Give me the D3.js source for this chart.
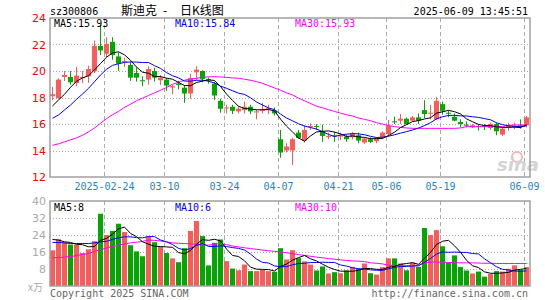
<!DOCTYPE html>
<html><head><meta charset="utf-8">
<script src="https://cdn.jsdelivr.net/npm/d3@7"></script>
<style>
html,body{margin:0;padding:0;background:#fff;}
svg{display:block;}
.mono{font-family:"DejaVu Sans Mono",monospace;font-size:10px;}
</style></head>
<body>
<svg id="c" width="545" height="300"></svg>
<script>
const dates = ["02-11","02-12","02-13","02-14","02-17","02-18","02-19","02-20","02-21","02-24",
"02-25","02-26","02-27","02-28","03-03","03-04","03-05","03-06","03-07","03-10",
"03-11","03-12","03-13","03-14","03-17","03-18","03-19","03-20","03-21","03-24",
"03-25","03-26","03-27","03-28","03-31","04-01","04-02","04-03","04-07","04-08",
"04-09","04-10","04-11","04-14","04-15","04-16","04-17","04-18","04-21","04-22",
"04-23","04-24","04-25","04-28","04-29","04-30","05-06","05-07","05-08","05-09",
"05-12","05-13","05-14","05-15","05-16","05-19","05-20","05-21","05-22","05-23",
"05-26","05-27","05-28","05-29","05-30","06-03","06-04","06-05","06-06","06-09"];
const open = [18.1,17.95,19.55,19.55,19.1,19.45,19.6,20.0,21.9,21.3,
22.2,21.1,20.65,20.45,19.85,19.3,19.35,20.0,19.3,19.35,
18.75,19.05,18.74,18.3,19.9,20.0,19.4,19.05,17.75,17.2,
17.3,16.95,17.05,17.3,16.9,17.0,17.1,17.0,14.85,14.0,
14.0,15.35,14.75,15.8,15.85,15.45,15.05,15.15,15.05,15.05,
15.0,15.15,14.6,14.85,14.7,15.0,15.25,16.2,16.25,16.4,
16.25,16.5,17.05,16.8,16.35,17.5,16.85,16.55,16.15,15.95,
15.75,15.85,15.85,15.7,16.0,15.2,15.75,15.8,15.9,15.9];
const high = [18.8,19.45,20.0,20.0,20.3,20.0,20.4,22.3,23.5,22.55,
22.55,21.4,21.0,20.7,20.28,19.6,20.35,20.25,19.7,19.47,
18.95,19.27,18.94,19.8,20.35,20.05,19.5,19.19,17.9,17.45,
17.45,17.3,17.7,17.45,17.1,17.6,17.45,17.25,15.55,14.55,
14.95,15.55,15.9,16.05,16.0,15.95,15.35,15.4,15.35,15.2,
15.4,15.35,15.0,15.0,15.0,15.45,16.3,16.55,16.75,16.5,
16.6,16.8,17.8,17.45,18.05,17.7,17.0,16.8,16.35,16.2,
16.0,16.0,16.0,16.1,16.1,15.75,16.1,16.1,16.35,16.6];
const low = [17.8,17.9,19.25,18.97,18.85,19.1,19.1,19.85,21.2,21.05,
20.85,20.0,20.3,19.25,19.2,18.85,18.97,19.2,18.95,18.5,
18.25,18.62,17.6,17.9,19.3,19.15,19.05,17.8,16.85,16.8,
16.75,16.8,16.8,16.75,16.35,16.8,16.75,16.65,13.45,13.85,
12.9,14.9,14.6,15.55,15.55,14.65,14.85,14.65,14.8,14.65,
14.85,14.55,14.5,14.55,14.55,14.85,15.05,16.0,16.0,15.95,
16.2,16.0,16.45,16.35,16.3,16.7,16.5,16.2,15.75,15.75,
15.7,15.5,15.55,15.55,15.15,15.1,15.5,15.6,15.65,15.75];
const close = [18.25,19.35,19.7,19.15,19.65,19.55,20.15,21.9,21.55,22.05,
21.2,20.55,20.75,19.5,19.5,19.25,20.15,19.5,19.5,18.9,
18.85,18.95,18.3,19.45,20.1,19.4,19.35,18.15,17.15,17.25,
17.0,17.15,17.3,16.95,16.95,17.05,17.2,16.8,13.85,14.3,
14.85,14.95,15.55,15.85,15.8,15.1,15.1,15.1,15.15,14.85,
15.3,14.75,14.9,14.65,14.9,15.35,15.85,16.15,16.4,16.0,
16.5,16.25,16.75,16.85,17.75,17.0,16.8,16.25,16.0,15.9,
15.9,15.8,15.8,16.0,15.45,15.65,15.85,15.85,15.85,16.5];
const volume = [16.8,22.0,20.5,19.5,19.5,15.5,17.3,21.1,34.0,24.0,
25.9,29.3,25.4,19.2,16.3,14.0,23.5,20.6,18.4,15.5,
13.0,11.2,17.8,25.9,30.6,23.5,9.7,20.3,21.9,11.7,
8.2,7.4,10.1,7.0,7.0,7.6,7.0,6.7,17.8,12.5,
16.8,13.1,11.6,10.1,7.3,9.2,5.9,6.5,6.0,7.3,
9.0,8.2,10.6,6.0,5.4,8.9,13.0,13.0,10.6,7.4,
11.0,9.0,27.3,24.0,26.3,18.7,11.2,14.4,8.9,7.3,
5.9,6.8,4.4,5.7,7.0,6.8,8.1,9.7,7.6,8.9];
// MA30 lines (their history lies before the window)
const ma30Price = [14.39,14.5,14.65,14.8,14.95,15.15,15.4,15.7,16.05,16.4,
16.7,16.95,17.25,17.5,17.75,17.95,18.15,18.35,18.55,18.75,
19.0,19.15,19.3,19.4,19.45,19.52,19.56,19.57,19.55,19.52,
19.48,19.45,19.38,19.3,19.2,19.07,18.9,18.72,18.55,18.35,
18.19,17.95,17.75,17.55,17.35,17.22,17.08,16.95,16.82,16.7,
16.6,16.45,16.35,16.25,16.1,16.0,15.88,15.8,15.75,15.7,
15.67,15.67,15.67,15.67,15.67,15.67,15.67,15.67,15.7,15.8,
15.8,15.8,15.8,15.8,15.8,15.8,15.9,15.92,15.93,15.93];
const ma30Vol = [13.3,13.4,13.6,13.9,14.3,14.8,15.3,16.2,17.1,17.9,
18.6,19.2,19.8,20.3,20.6,21.0,21.6,21.5,21.2,20.7,
20.3,20.1,20.0,19.8,19.6,19.3,19.2,19.6,20.0,19.5,
18.8,18.4,18.0,17.6,17.3,16.9,16.6,16.3,16.0,15.7,
15.2,14.8,14.4,14.0,13.6,13.3,12.9,12.6,12.3,12.0,
11.8,11.7,11.5,10.9,10.7,10.4,9.8,9.6,9.6,9.6,
9.6,9.8,11.0,11.2,11.3,11.2,11.1,11.0,10.9,10.9,
10.9,10.8,10.7,10.7,10.6,10.6,10.6,10.6,10.6,10.6];
// first points of MA5 / MA10 (need days before the window)
const ma5PriceHead = [17.36,17.81,18.24,18.77];
const ma10PriceHead = [16.43,16.68,17.06,17.43,17.86,18.26,18.69,19.19,19.70];
const ma5VolHead = [21.9,21.6,20.8,20.5];
const ma10VolHead = [20.5,20.5,20.3,20.0,20.0,20.0,20.0,20.3,20.8];
const priceTicks = [12,14,16,18,20,22,24];
const volTicks = [8,16,24,32,40];
const dateTicks = ["02-24","03-10","03-24","04-07","04-21","05-06","05-19","06-09"];
const dateTickLabels = ["2025-02-24","03-10","03-24","04-07","04-21","05-06","05-19","06-09"];
const priceLegend = ["MA5:15.93","MA10:15.84","MA30:15.93"];
const volLegend = ["MA5:8","MA10:6","MA30:10"];

function movAvg(arr, n, head){
  return arr.map((v,i)=> i < head.length ? head[i] : d3.mean(arr.slice(i-n+1,i+1)));
}
const ma5Price = movAvg(close,5,ma5PriceHead);
const ma10Price = movAvg(close,10,ma10PriceHead);
const ma5Vol = movAvg(volume,5,ma5VolHead);
const ma10Vol = movAvg(volume,10,ma10VolHead);

const UP="#ff5a5a", DN="#00a800", GRID="#aaaaaa", FRAME="#a0a0a0";
const L=50, R=530, PT=18, PB=177, VT=201, VB=286;
const svg = d3.select("#c");
const x = d3.scaleBand().domain(dates).range([L,R]).paddingInner(1/6).paddingOuter(1/12).align(0);
const bw = x.bandwidth();
const cx = d => x(d)+bw/2;
const yP = d3.scaleLinear().domain([12,24]).range([PB,PT]);
const yV = d3.scaleLinear().domain([0,40]).range([VB,VT]);

svg.append("defs").append("clipPath").attr("id","cp").append("rect").attr("x",L).attr("y",PT).attr("width",R-L).attr("height",PB-PT);
svg.select("defs").append("clipPath").attr("id","cv").append("rect").attr("x",L).attr("y",VT).attr("width",R-L).attr("height",VB-VT);

function grids(g, ys, top, bottom){
  g.selectAll("line.h").data(ys).join("line").attr("x1",L).attr("x2",R)
   .attr("y1",d=>Math.round(d)+0.5).attr("y2",d=>Math.round(d)+0.5)
   .attr("stroke",GRID).attr("stroke-dasharray","1,2");
  g.selectAll("line.v").data(dateTicks).join("line").attr("class","v")
   .attr("x1",d=>x(d)+0.5).attr("x2",d=>x(d)+0.5).attr("y1",top).attr("y2",bottom)
   .attr("stroke",GRID).attr("stroke-dasharray","4,3");
}
grids(svg.append("g"), [14,16,18,20,22].map(yP), PT, PB);
grids(svg.append("g"), [8,16,24,32].map(yV), VT, VB);

// watermark
const wm = svg.append("g");
wm.append("circle").attr("cx",517).attr("cy",157).attr("r",5).attr("fill","none").attr("stroke","#f2b8b8").attr("stroke-width",2);
wm.append("text").attr("x",497).attr("y",171).attr("font-family","DejaVu Sans").attr("font-weight","bold").attr("font-style","italic").attr("font-size",18).attr("fill","#d4d4d4").text("sina");

// candles
const gc = svg.append("g").attr("clip-path","url(#cp)");
const idx = d3.range(dates.length);
gc.selectAll("line.w").data(idx).join("line")
  .attr("x1",i=>cx(dates[i])).attr("x2",i=>cx(dates[i]))
  .attr("y1",i=>yP(high[i])).attr("y2",i=>yP(low[i]))
  .attr("stroke",i=>close[i]>=open[i]?UP:DN).attr("stroke-width",1);
gc.selectAll("rect").data(idx).join("rect")
  .attr("x",i=>x(dates[i])).attr("width",bw)
  .attr("y",i=>yP(Math.max(open[i],close[i])))
  .attr("height",i=>Math.max(1,Math.abs(yP(open[i])-yP(close[i]))))
  .attr("fill",i=>close[i]>=open[i]?UP:DN);

const line = (arr, ys) => d3.line().x((d,i)=>cx(dates[i])).y(d=>ys(d))(arr);
gc.append("path").attr("d",line(ma30Price,yP)).attr("fill","none").attr("stroke","#ff00ff");
gc.append("path").attr("d",line(ma10Price,yP)).attr("fill","none").attr("stroke","#0000ff");
gc.append("path").attr("d",line(ma5Price,yP)).attr("fill","none").attr("stroke","#000000");

// volume
const gv = svg.append("g").attr("clip-path","url(#cv)");
gv.selectAll("rect").data(idx).join("rect")
  .attr("x",i=>x(dates[i])).attr("width",bw)
  .attr("y",i=>yV(volume[i])).attr("height",i=>yV(0)-yV(volume[i]))
  .attr("fill",i=>close[i]>=open[i]?UP:DN);
gv.append("path").attr("d",line(ma30Vol,yV)).attr("fill","none").attr("stroke","#ff00ff");
gv.append("path").attr("d",line(ma10Vol,yV)).attr("fill","none").attr("stroke","#0000ff");
gv.append("path").attr("d",line(ma5Vol,yV)).attr("fill","none").attr("stroke","#000000");

// frames
svg.append("rect").attr("x",L).attr("y",PT).attr("width",R-L).attr("height",PB-PT).attr("fill","none").attr("stroke",FRAME).attr("stroke-width",1.5);
svg.append("rect").attr("x",L).attr("y",VT).attr("width",R-L).attr("height",VB-VT).attr("fill","none").attr("stroke",FRAME).attr("stroke-width",1.5);

// axes labels
svg.append("g").selectAll("text").data(priceTicks).join("text")
  .attr("x",46).attr("y",d=>yP(d)+4).attr("text-anchor","end")
  .attr("font-family","DejaVu Sans").attr("font-size",11).attr("fill","#ff0000").text(d=>d);
svg.append("g").selectAll("text").data(volTicks).join("text")
  .attr("x",46).attr("y",d=>yV(d)+4).attr("text-anchor","end")
  .attr("font-family","DejaVu Sans").attr("font-size",11).attr("fill","#aaaaaa").text(d=>d);
svg.append("text").attr("x",28).attr("y",291).attr("font-family","Noto Sans CJK SC").attr("font-size",10).attr("fill","#aaaaaa").text("x万");
svg.append("g").selectAll("text").data(dateTicks).join("text").attr("class","mono")
  .attr("x",d=>x(d)+0.5).attr("y",190).attr("text-anchor","middle").attr("fill","#1a86d0")
  .text((d,i)=>dateTickLabels[i]);

// header
svg.append("text").attr("class","mono").attr("x",50).attr("y",15).attr("fill","#000").text("sz300806");
const tt = svg.append("text").attr("y",15).attr("font-family","Noto Sans CJK SC").attr("font-size",12).attr("fill","#000");
tt.append("tspan").attr("x",121).text("斯迪克");
tt.append("tspan").attr("x",163).text("-");
tt.append("tspan").attr("x",180).text("日K线图");
svg.append("text").attr("class","mono").attr("x",528).attr("y",15).attr("text-anchor","end").attr("fill","#000").text("2025-06-09 13:45:51");

// MA legends
const legX = [54,175,295], legC = ["#000000","#0000ff","#ff00ff"];
svg.append("g").selectAll("text").data(priceLegend).join("text").attr("class","mono")
  .attr("x",(d,i)=>legX[i]).attr("y",27).attr("fill",(d,i)=>legC[i]).text(d=>d);
svg.append("g").selectAll("text").data(volLegend).join("text").attr("class","mono")
  .attr("x",(d,i)=>legX[i]).attr("y",211).attr("fill",(d,i)=>legC[i]).text(d=>d);

// footer
svg.append("text").attr("class","mono").attr("x",50).attr("y",297).attr("fill","#666").text("Copyright 2025 SINA.COM");
svg.append("text").attr("class","mono").attr("x",528).attr("y",297).attr("text-anchor","end").attr("fill","#666").text("http://finance.sina.com.cn");
</script>
</body></html>
